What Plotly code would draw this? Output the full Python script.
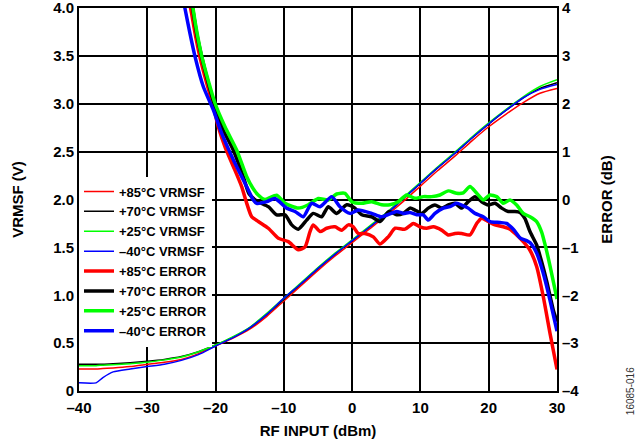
import plotly.graph_objects as go

# RF input levels used for the VRMSF readings (dBm)
vrmsf_x = [-40, -37.5, -36.5, -35, -32.5, -30, -27.5, -25, -22.5, -20, -17.5, -15, -12.5, -10,
           -7.5, -5, -2.5, 0, 2.5, 5, 7.5, 10, 12.5, 15, 17.5, 20, 22.5, 25, 27.5, 30]

vrmsf_85 = [0.23, 0.23, 0.235, 0.24, 0.255, 0.28, 0.30, 0.33, 0.39, 0.47, 0.55, 0.645, 0.78, 0.94,
            1.10, 1.26, 1.41, 1.55, 1.69, 1.83, 1.98, 2.14, 2.30, 2.45, 2.61, 2.76, 2.89, 3.01, 3.11, 3.16]
vrmsf_70 = [0.28, 0.28, 0.28, 0.285, 0.295, 0.31, 0.33, 0.36, 0.41, 0.48, 0.56, 0.66, 0.80, 0.96,
            1.12, 1.28, 1.43, 1.57, 1.71, 1.85, 2.01, 2.17, 2.33, 2.48, 2.64, 2.79, 2.93, 3.06, 3.16, 3.22]
vrmsf_25 = [0.265, 0.265, 0.27, 0.275, 0.285, 0.30, 0.325, 0.355, 0.41, 0.48, 0.565, 0.665, 0.81, 0.97,
            1.13, 1.29, 1.44, 1.58, 1.72, 1.86, 2.02, 2.18, 2.34, 2.49, 2.65, 2.80, 2.94, 3.07, 3.18, 3.25]
vrmsf_m40 = [0.085, 0.085, 0.14, 0.20, 0.23, 0.255, 0.28, 0.32, 0.38, 0.47, 0.555, 0.66, 0.80, 0.97,
             1.12, 1.28, 1.43, 1.57, 1.71, 1.85, 2.01, 2.17, 2.33, 2.48, 2.64, 2.79, 2.93, 3.06, 3.15, 3.20]

# error curves (dB), each with its own input points
err85_x = [-24.0, -23.65, -23.0, -22.3, -21.3, -20.33, -19.6, -18.62, -17.4, -16.18, -15.5, -14.71,
           -13.74, -12.28, -10.8, -9.35, -7.88, -6.9, -6.17, -5.7, -4.7, -3.73, -2.51, -1.54, -0.56,
           0.17, 0.9, 1.88, 3.1, 4.08, 5.29, 6.3, 7.74, 8.96, 9.94, 10.91, 11.89, 13.1, 14.08, 15.06,
           16.04, 17.25, 18.24, 18.96, 19.94, 20.92, 22.13, 23.11, 24.09, 25.06, 26.04, 27.02, 27.99,
           28.97, 30.0]
err85_y = [4.2, 3.99, 3.47, 2.98, 2.43, 1.94, 1.52, 1.10, 0.69, 0.27, -0.05, -0.36,
           -0.46, -0.60, -0.81, -0.88, -1.05, -0.99, -0.67, -0.53, -0.67, -0.60, -0.57, -0.64, -0.53,
           -0.57, -0.71, -0.71, -0.78, -0.93, -0.78, -0.60, -0.62, -0.50, -0.57, -0.60, -0.57, -0.64, -0.74, -0.71,
           -0.71, -0.74, -0.50, -0.39, -0.46, -0.53, -0.57, -0.62, -0.74, -0.88, -1.06, -1.40, -2.03,
           -2.79, -3.55]

err70_x = [-23.6, -23.35, -22.77, -22.03, -21.06, -20.08, -18.87, -17.4, -15.94, -15.1, -13.9, -12.28,
           -11.05, -9.83, -8.85, -7.88, -6.66, -5.7, -4.47, -3.49, -2.27, -0.8, 0.41, 1.4, 2.86, 4.08,
           5.4, 6.52, 7.49, 8.47, 9.2, 10.18, 11.15, 12.13, 13.1, 14.08, 15.06, 16.04, 17.0, 17.99,
           18.96, 19.94, 20.92, 21.89, 22.87, 23.85, 24.58, 25.31, 26.04, 27.02, 27.75, 28.48, 29.46, 30.0]
err70_y = [4.2, 3.99, 3.47, 2.98, 2.43, 1.94, 1.45, 1.03, 0.48, 0.12, -0.04, -0.15,
           -0.32, -0.32, -0.53, -0.62, -0.43, -0.29, -0.36, -0.15, -0.29, -0.11, -0.18, -0.32, -0.36, -0.46,
           -0.25, -0.32, -0.29, -0.18, -0.22, -0.29, -0.18, -0.115, -0.18, -0.115, -0.08, -0.18, -0.045, 0.06,
           -0.045, -0.115, -0.08, -0.18, -0.25, -0.25, -0.27, -0.40, -0.67, -0.95, -1.30, -1.70, -2.31, -2.55]

err25_x = [-23.5, -23.3, -22.7, -22.0, -21.0, -20.08, -18.62, -16.9, -15.45, -14.6, -13.8, -12.76,
           -11.05, -9.83, -7.88, -6.42, -4.96, -3.49, -2.27, -1.05, -0.07, 1.4, 2.86, 4.33, 5.54, 6.76,
           7.98, 9.2, 10.42, 11.65, 12.86, 14.08, 15.3, 16.28, 17.25, 18.24, 19.2, 20.18, 21.16, 22.13,
           23.11, 24.09, 25.06, 26.04, 27.02, 27.75, 28.3, 29.0, 30.0]
err25_y = [4.2, 3.99, 3.47, 2.98, 2.45, 2.01, 1.52, 1.03, 0.48, 0.25, 0.10, 0.0,
           0.09, -0.08, -0.18, -0.11, 0.02, -0.01, 0.115, 0.13, -0.045, -0.08, -0.045, -0.11, -0.11, -0.045,
           0.094, 0.024, 0.06, 0.06, 0.094, 0.18, 0.13, 0.14, 0.27, 0.13, -0.01, 0.094, 0.06, -0.08,
           -0.01, -0.115, -0.29, -0.36, -0.46, -0.68, -0.97, -1.40, -2.08]

errm40_x = [-24.9, -24.48, -23.75, -23.0, -21.8, -20.33, -19.1, -17.4, -15.45, -14.48, -13.98, -12.5,
            -11.3, -9.6, -8.37, -7.15, -5.93, -4.7, -3.0, -1.78, -0.32, 0.9, 2.86, 4.33, 5.54, 6.52,
            7.49, 8.47, 9.45, 10.42, 11.15, 12.13, 13.35, 14.33, 15.3, 16.04, 17.0, 17.99, 19.2, 20.18,
            21.65, 22.62, 23.6, 24.58, 25.56, 26.04, 27.02, 27.99, 28.97, 30.0]
errm40_y = [4.3, 3.99, 3.47, 2.98, 2.36, 1.87, 1.38, 0.83, 0.27, -0.01, -0.08, -0.045,
            0.02, -0.18, -0.25, -0.36, -0.08, -0.15, 0.06, -0.15, -0.29, -0.22, -0.29, -0.36, -0.30, -0.25,
            -0.29, -0.27, -0.32, -0.32, -0.43, -0.29, -0.18, -0.15, -0.08, -0.115, -0.18, -0.29, -0.36, -0.46,
            -0.48, -0.50, -0.62, -0.80, -0.86, -0.90, -1.12, -1.54, -2.10, -2.75]

x_ticks = [-40, -30, -20, -10, 0, 10, 20, 30]
x_ticktext = ['–40', '–30', '–20', '–10', '0', '10', '20', '30']
y_ticks = [0, 0.5, 1.0, 1.5, 2.0, 2.5, 3.0, 3.5, 4.0]
y_ticktext = ['0', '0.5', '1.0', '1.5', '2.0', '2.5', '3.0', '3.5', '4.0']
y2_ticks = [-4, -3, -2, -1, 0, 1, 2, 3, 4]
y2_ticktext = ['–4', '–3', '–2', '–1', '0', '1', '2', '3', '4']

FONT = 'Liberation Sans, Arial, Helvetica, sans-serif'
RED, BLACK, GREEN, BLUE = '#ff0000', '#000000', '#00ff00', '#0000ff'

fig = go.Figure()

# VRMSF（細線，左軸）
for name, ys, color in [('+85°C VRMSF', vrmsf_85, RED),
                        ('+70°C VRMSF', vrmsf_70, BLACK),
                        ('+25°C VRMSF', vrmsf_25, GREEN),
                        ('–40°C VRMSF', vrmsf_m40, BLUE)]:
    fig.add_trace(go.Scatter(
        x=vrmsf_x, y=ys, mode='lines', name=name, yaxis='y',
        line=dict(color=color, width=1.5, shape='spline', smoothing=0.6)
    ))

# ERROR（粗線，右軸）
for name, xs, ys, color in [('+85°C ERROR', err85_x, err85_y, RED),
                            ('+70°C ERROR', err70_x, err70_y, BLACK),
                            ('+25°C ERROR', err25_x, err25_y, GREEN),
                            ('–40°C ERROR', errm40_x, errm40_y, BLUE)]:
    fig.add_trace(go.Scatter(
        x=xs, y=ys, mode='lines', name=name, yaxis='y2',
        line=dict(color=color, width=3.5, shape='spline', smoothing=0.6)
    ))

axis_common = dict(
    showline=True, linecolor='black', linewidth=2, mirror=True,
    ticks='', zeroline=False, automargin=False, ticklabeloverflow='allow',
    tickfont=dict(family=FONT, size=15, color='black', weight='bold'),
)

fig.update_layout(
    width=639, height=444,
    margin=dict(l=79, r=82, t=8, b=53),
    paper_bgcolor='white', plot_bgcolor='white',
    font=dict(family=FONT, color='black'),
    xaxis=dict(
        range=[-40, 30], tickvals=x_ticks, ticktext=x_ticktext,
        showgrid=True, gridcolor='black', gridwidth=1.5, ticklabelstandoff=2,
        title=dict(text='RF INPUT (dBm)', font=dict(family=FONT, size=15, weight='bold'), standoff=10),
        **axis_common
    ),
    yaxis=dict(
        range=[0, 4], tickvals=y_ticks, ticktext=y_ticktext,
        showgrid=True, gridcolor='black', gridwidth=1.5,
        title=dict(text='VRMSF (V)', font=dict(family=FONT, size=15, weight='bold'), standoff=26),
        **axis_common
    ),
    yaxis2=dict(
        range=[-4, 4], tickvals=y2_ticks, ticktext=y2_ticktext,
        overlaying='y', side='right', showgrid=False,
        title=dict(text='ERROR (dB)', font=dict(family=FONT, size=15, weight='bold'), standoff=23),
        **axis_common
    ),
    legend=dict(
        x=0, y=0.56, xanchor='left', yanchor='top',
        bgcolor='white', borderwidth=0, tracegroupgap=0,
        font=dict(family=FONT, size=13, color='black', weight='bold')
    ),
    showlegend=True,
)

fig.add_annotation(
    text='16085-016', xref='paper', yref='paper', x=1.153, y=0.0,
    textangle=-90, showarrow=False, xanchor='center', yanchor='middle',
    font=dict(family=FONT, size=10, color='#333333')
)

# 頁面預設 body 邊距 8px，移除讓圖表貼齊視窗左上角
fig.write_html("out.html", config={'displayModeBar': False},
               post_script="document.body.style.margin='0';")
